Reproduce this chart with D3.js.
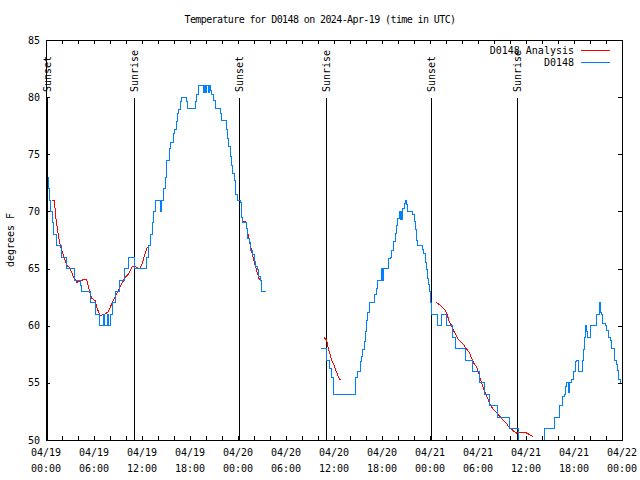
<!DOCTYPE html>
<html><head><meta charset="utf-8">
<script src="https://cdn.jsdelivr.net/npm/d3@7"></script>
<style>
body{margin:0;background:#fff}
svg text{font-family:"DejaVu Sans Mono",monospace;font-size:10px;fill:#000}
</style>
</head><body>
<svg id="chart" width="640" height="480"></svg>
<script>
const chartTitle = "Temperature for D0148 on 2024-Apr-19 (time in UTC)";
const yLabel = "degrees F";
const startTime = "2024-04-19T00:00:00Z";
const spanHours = 72;
const yTicks = [50, 55, 60, 65, 70, 75, 80, 85];
const seriesNames = ["D0148 Analysis", "D0148"];

// Observed D0148 (hours since 04/19 00:00 UTC, deg F)
const obsHours1 = [0.19,0.31,0.44,0.56,0.75,0.88,1.25,1.96,2.5,3.54,4.25,4.46,5.5,6.13,6.66,7.16,7.25,7.63,7.75,8.0,8.34,8.63,9.13,9.75,10.29,11.04,12.5,12.75,13.0,13.25,13.44,13.69,14.25,14.38,14.63,14.88,15.09,15.41,15.5,15.91,16.04,16.25,16.41,16.54,16.75,16.96,17.59,17.71,18.63,18.84,19.04,19.66,19.79,19.96,20.09,20.25,20.38,20.5,20.71,20.91,21.13,21.75,21.96,22.5,22.59,22.71,22.84,23.0,23.13,23.34,23.5,23.71,23.91,24.25,24.38,24.46,24.59,25.09,25.21,25.41,25.59,25.79,26.0,26.13,26.41,26.54,26.75,26.88,27.46];
const obsTemps1 = [73,72,71,70,69,68,67,66,65,64,63.5,63,62,61,60,61,60,61,60,61,62,63,64,65,66,65,66,67,68,69,70,71,70,71,72,73,74.5,75.5,76,76.8,77.2,77.9,78.6,78.9,79.6,80,79.6,79,79.6,80.2,81,80.4,81,80.4,81,80.4,81,80.6,80.2,79.7,79,78.6,78,77.7,77.2,76.4,75.7,74.8,74,73.3,72.7,71.5,71,70.8,70,69.5,69,68.5,67.6,67.3,66.6,66.2,65.6,65.2,64.9,64.3,64,63,63];
const obsHours2 = [34.38,35.09,35.38,35.63,35.91,38.71,38.91,39.34,39.46,39.59,39.75,39.88,40.09,40.21,40.41,41.04,41.25,41.46,41.88,42.04,42.16,42.79,43.09,43.21,43.41,43.63,43.75,43.91,44.13,44.25,44.38,44.46,44.59,44.79,44.96,45.09,45.16,45.84,46.0,46.13,46.34,46.46,47.09,47.16,47.38,47.5,47.66,47.79,47.91,48.04,48.21,48.98,49.46,50.09,50.81,51.23,52.44,53.25,54.13,54.75,55.44,56.38,57.88,59.0,62.25,63.5,64.13,64.59,64.79,64.91,65.09,65.29,65.44,65.71,65.91,66.13,66.34,66.54,67.04,67.16,67.29,67.41,67.59,67.71,68.04,68.75,69.13,69.29,69.46,69.59,69.88,70.09,70.29,70.5,70.71,71.04,71.25,71.38,71.5,71.59,71.75,71.9];
const obsTemps2 = [58,57,56.3,55.5,54,55.5,56,56.9,57.3,57.9,58.6,59.5,60.5,61.2,62,62.7,63.3,64,65,64,65,65.9,66,66.6,67.4,68.1,68.8,69.4,70,69.3,70,69.3,70.3,70.7,71,70.6,70,69.7,69.1,68.4,67.5,67,66.7,66.3,65.5,64.9,64.1,63.6,63,62,61,60,61,60,59,58,57,56,55,54,53,52,51,49.5,51,52,53,53.8,54,54.7,55,54.2,55,55.3,56,56.9,57,56,57,57.9,59,60,59.5,59,60,61,62,61.2,61,60.2,60,59.6,59,58.7,58,57,56.6,56.1,55.7,55.3,55,55];

// Analysis D0148 (four pieces)
const anaHours1 = [0.79,1.04,1.25,1.66,1.96,2.25,2.59,2.91,3.21,3.41,3.84,4.25,4.88,5.09,5.41,5.71,6.13,6.41,6.75,7.16,7.79,8.09,8.41,8.84,9.25,9.88,10.29,10.79,11.13,11.34,11.75,12.09,12.38,12.66,12.91];
const anaTemps1 = [71,71,69.3,67.4,66.6,66,65.3,65.1,64.7,64.3,63.8,63.9,64.1,64,63.1,62.4,62.2,61.5,60.9,60.95,61.2,61.7,62.25,62.8,63.4,64.2,64.5,65.2,65.2,65.1,64.96,65.6,66.3,66.85,67];
const anaHours2 = [24.66,24.96,25.29,25.71,26.13,26.66,26.88];
const anaTemps2 = [69.1,69.1,67.9,66.5,65.3,64.06,64];
const anaHours3 = [34.75,35.09,35.29,35.5,35.71,35.91,36.13,36.34,36.54,36.75,36.88];
const anaTemps3 = [59,58.7,58,57.5,57,56.7,56.3,55.9,55.5,55.3,55.3];
const anaHours4 = [48.75,49.25,49.88,50.09,50.41,50.71,50.91,51.21,51.54,51.84,52.16,52.59,52.91,53.21,53.5,53.84,54.04,54.25,54.46,54.75,55.0,55.29,55.59,55.91,56.34,56.75,57.09,57.5,57.79,58.09,58.41,58.84,59.25,59.88,60.29,60.71,60.91];
const anaTemps4 = [62.05,61.8,61.4,61.1,60.35,60,59.6,59.25,58.8,58.6,58.37,57.96,57.64,57.15,56.7,56.36,55.98,55.4,54.96,54.4,53.94,53.5,52.98,52.7,52.4,52.04,51.8,51.5,51.2,51.0,50.8,50.6,50.67,50.67,50.53,50.35,50.35];

// Sun events (hours since start)
const sunHours = [0.08, 11.0, 24.13, 35.0, 48.13, 58.88];
const sunLabels = ["Sunset","Sunrise","Sunset","Sunrise","Sunset","Sunrise"];

const t0 = new Date(startTime);
const toDate = h => new Date(t0.getTime() + h * 3600000);
const zipPts = (hs, vs) => hs.map((h, i) => ({t: toDate(h), v: vs[i]}));

const svg = d3.select("#chart");
const M = {l: 46, r: 622, t: 40, b: 440};
const x = d3.scaleUtc().domain([t0, toDate(spanHours)]).range([M.l, M.r]);
const y = d3.scaleLinear().domain([50, 85]).range([M.b, M.t]);

svg.append("rect").attr("width", 640).attr("height", 480).attr("fill", "#fff");

svg.append("defs").append("clipPath").attr("id", "clip")
  .append("rect").attr("x", M.l).attr("y", M.t).attr("width", M.r - M.l).attr("height", M.b - M.t);

// title
svg.append("text").attr("x", 320).attr("y", 23).attr("text-anchor", "middle")
  .style("letter-spacing", "-0.6px").text(chartTitle);

// y label
svg.append("text").attr("transform", "translate(14,240) rotate(-90)")
  .attr("text-anchor", "middle").text(yLabel);

// ticks
const tickG = svg.append("g").attr("stroke", "#000").attr("shape-rendering", "crispEdges");
const minorTicks = d3.utcHour.every(2).range(t0, toDate(spanHours + 0.1));
minorTicks.forEach(d => {
  const xp = Math.round(x(d)) + 0.5;
  tickG.append("line").attr("x1", xp).attr("x2", xp).attr("y1", M.b).attr("y2", M.b - 4);
  tickG.append("line").attr("x1", xp).attr("x2", xp).attr("y1", M.t).attr("y2", M.t + 4);
});
yTicks.forEach(v => {
  const yp = Math.round(y(v)) + 0.5;
  tickG.append("line").attr("x1", M.l).attr("x2", M.l + 4).attr("y1", yp).attr("y2", yp);
  tickG.append("line").attr("x1", M.r).attr("x2", M.r - 4).attr("y1", yp).attr("y2", yp);
  svg.append("text").attr("x", 40).attr("y", y(v)).attr("dy", "0.35em")
    .attr("text-anchor", "end").text(v);
});

// x labels
const majorTicks = d3.utcHour.every(6).range(t0, toDate(spanHours + 0.1));
const fDate = d3.utcFormat("%m/%d"), fTime = d3.utcFormat("%H:%M");
majorTicks.forEach(d => {
  const t = svg.append("text").attr("text-anchor", "middle");
  t.append("tspan").attr("x", x(d)).attr("y", 456).text(fDate(d));
  t.append("tspan").attr("x", x(d)).attr("y", 472).text(fTime(d));
});

// sun lines
sunHours.forEach((h, i) => {
  const xp = Math.round(x(toDate(h))) + 0.5;
  svg.append("line").attr("x1", xp).attr("x2", xp).attr("y1", 98).attr("y2", M.b)
    .attr("stroke", "#000").attr("shape-rendering", "crispEdges");
  svg.append("text").attr("transform", `translate(${xp + 3.5},92) rotate(-90)`)
    .attr("text-anchor", "start").text(sunLabels[i]);
});

// data lines
const plot = svg.append("g").attr("clip-path", "url(#clip)");
const stepLine = d3.line().x(d => x(d.t)).y(d => y(d.v)).curve(d3.curveStepAfter);
const linLine = d3.line().x(d => x(d.t)).y(d => y(d.v));
[[anaHours1, anaTemps1], [anaHours2, anaTemps2], [anaHours3, anaTemps3], [anaHours4, anaTemps4]].forEach(([h, v]) => {
  plot.append("path").attr("d", linLine(zipPts(h, v))).attr("fill", "none")
    .attr("stroke", "#ff0000").attr("stroke-width", 1).attr("shape-rendering", "crispEdges");
});
[[obsHours1, obsTemps1], [obsHours2, obsTemps2]].forEach(([h, v]) => {
  plot.append("path").attr("d", stepLine(zipPts(h, v))).attr("fill", "none")
    .attr("stroke", "#0080ff").attr("stroke-width", 1).attr("shape-rendering", "crispEdges");
});

// border
svg.append("rect").attr("x", M.l + 0.5).attr("y", M.t + 0.5).attr("width", M.r - M.l).attr("height", M.b - M.t)
  .attr("fill", "none").attr("stroke", "#000").attr("shape-rendering", "crispEdges");

// legend
const legColors = ["#ff0000", "#0080ff"];
seriesNames.forEach((n, i) => {
  const yy = 50 + i * 12;
  svg.append("text").attr("x", 574).attr("y", yy).attr("dy", "0.35em").attr("text-anchor", "end").text(n);
  svg.append("line").attr("x1", 581).attr("x2", 610).attr("y1", yy + 0.5).attr("y2", yy + 0.5)
    .attr("stroke", legColors[i]).attr("shape-rendering", "crispEdges");
});
</script>
</body></html>
